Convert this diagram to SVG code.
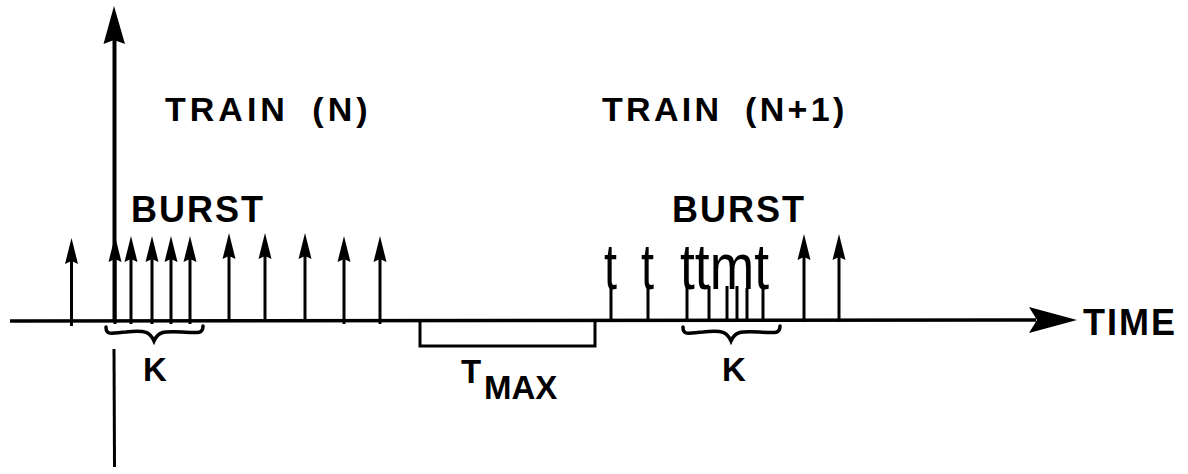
<svg xmlns="http://www.w3.org/2000/svg" width="1188" height="474" viewBox="0 0 1188 474">
  <style>
    .ln { stroke: #000; stroke-width: 3; fill: none; }
    .ax { stroke: #000; stroke-width: 3.5; fill: none; }
    .br { stroke: #000; stroke-width: 3.5; fill: none; stroke-linecap: round; }
    .lbl { font-family: "Liberation Sans", Arial, sans-serif; font-weight: bold; fill: #000; }
    .tt { font-family: "Liberation Sans", Arial, sans-serif; font-weight: normal; fill: #000; font-size: 64px; }
  </style>
  <defs>
    <g id="pulse">
      <line x1="0" y1="3" x2="0" y2="-64" stroke="#000" stroke-width="3"/>
      <path d="M0,-85 L-6.5,-59 L0,-62 L6.5,-59 Z" fill="#000"/>
    </g>
  </defs>
  <rect width="1188" height="474" fill="#fff"/>

  <g id="axes">
    <line class="ax" x1="10" y1="321" x2="1036" y2="320"/>
    <path d="M1077,320 L1029,307 L1037,320 L1029,333 Z" fill="#000"/>
    <line x1="114.5" y1="321" x2="114.5" y2="38" stroke="#000" stroke-width="4"/>
    <path d="M114,6 L103.5,44 L114,40 L125,44 Z" fill="#000"/>
    <line class="ln" x1="114" y1="349" x2="114.5" y2="467"/>
  </g>

  <g id="train-n">
    <use href="#pulse" transform="translate(71.5,323)"/>
    <use href="#pulse" transform="translate(115,321)"/>
    <use href="#pulse" transform="translate(131,321)"/>
    <use href="#pulse" transform="translate(152,321)"/>
    <use href="#pulse" transform="translate(171,321)"/>
    <use href="#pulse" transform="translate(190,321)"/>
    <use href="#pulse" transform="translate(229,318)"/>
    <use href="#pulse" transform="translate(265,318)"/>
    <use href="#pulse" transform="translate(305,318)"/>
    <use href="#pulse" transform="translate(344,321)"/>
    <use href="#pulse" transform="translate(380,321)"/>
  </g>

  <g id="train-n1">
    <g class="ln">
      <line x1="611" y1="322" x2="611" y2="285"/>
      <line x1="648" y1="322" x2="648" y2="285"/>
      <line x1="687" y1="322" x2="687" y2="285"/>
      <line x1="709" y1="322" x2="709" y2="286"/>
      <line x1="727" y1="322" x2="727" y2="286"/>
      <line x1="737" y1="322" x2="737" y2="286"/>
      <line x1="747" y1="322" x2="747" y2="288"/>
      <line x1="763" y1="322" x2="763" y2="285"/>
    </g>
    <text class="tt" x="604" y="289" textLength="13" lengthAdjust="spacingAndGlyphs">t</text>
    <text class="tt" x="641" y="289" textLength="13" lengthAdjust="spacingAndGlyphs">t</text>
    <text class="tt" x="680" y="289" textLength="89" lengthAdjust="spacingAndGlyphs">ttmt</text>
    <use href="#pulse" transform="translate(804,319)"/>
    <use href="#pulse" transform="translate(839,319)"/>
  </g>

  <g id="tmax">
    <path class="ln" d="M420,321 L420,346 L595,346 L595,321"/>
    <text class="lbl" x="461" y="383" font-size="33">T</text>
    <text class="lbl" x="484" y="399" font-size="33">MAX</text>
  </g>

  <g id="braces">
    <path class="br" d="M106,327 C106,336 112,333 126,332 C146,330 150,332 154,341 C158,332 162,331 182,332 C198,333 203,334 203,326"/>
    <path class="br" d="M683,327 C683,336 689,333 703,332 C723,330 727,332 731,341 C735,332 739,331 759,332 C775,333 780,334 780,326"/>
  </g>

  <g id="labels">
    <text class="lbl" x="165" y="121" font-size="34" letter-spacing="4" word-spacing="10">TRAIN (N)</text>
    <text class="lbl" x="602" y="121" font-size="34" letter-spacing="3.3" word-spacing="10">TRAIN (N+1)</text>
    <text class="lbl" x="131" y="222" font-size="36" letter-spacing="2">BURST</text>
    <text class="lbl" x="672" y="222" font-size="36" letter-spacing="2">BURST</text>
    <text class="lbl" x="143" y="381" font-size="33">K</text>
    <text class="lbl" x="722" y="381" font-size="33">K</text>
    <text class="lbl" x="1083" y="335" font-size="36" letter-spacing="2">TIME</text>
  </g>
</svg>
